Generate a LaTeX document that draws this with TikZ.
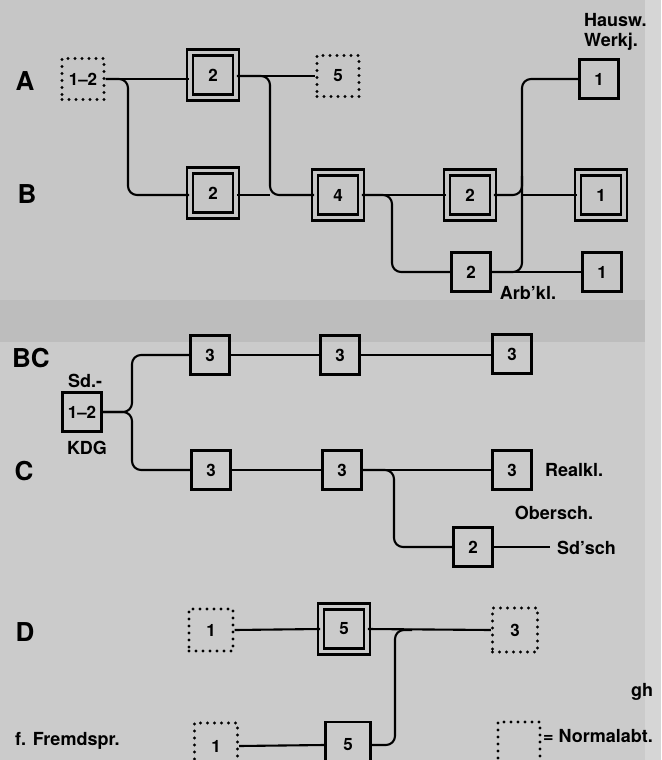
\documentclass[tikz,border=0pt]{standalone}
\usepackage{fontspec}
\setmainfont{TeX Gyre Heros}
\definecolor{pagebg}{HTML}{C6C6C6}
\definecolor{lowbg}{HTML}{CBCBCB}
\definecolor{bandbg}{HTML}{BDBDBD}
\definecolor{edgebg}{HTML}{D6D6D6}
\begin{document}
\begin{tikzpicture}[x=1pt,y=-1pt,
  conn/.style={line width=2.1pt, rounded corners=9pt},
  numfont/.style={font=\bfseries\fontsize{17}{19}\selectfont},
  box/.style={draw, line width=2.6pt, minimum width=39pt, minimum height=39pt, inner sep=0pt, numfont},
  dotbox/.style={draw, line width=3.2pt, dash pattern=on 0pt off 7pt, line cap=round, minimum width=42pt, minimum height=41pt, inner sep=0pt, numfont},
  dbox/.style={draw, line width=2.3pt, double=pagebg, double distance=3.6pt, minimum width=45.5pt, minimum height=45pt, inner sep=0pt, numfont},
  dboxlow/.style={dbox, double=lowbg},
  rowlabel/.style={font=\bfseries\fontsize{26}{28}\selectfont, inner sep=0pt},
  txt/.style={font=\bfseries\fontsize{18}{20}\selectfont, inner sep=0pt}]
\fill[pagebg] (0,0) rectangle (661,342);
\fill[lowbg] (0,342) rectangle (661,760);
\fill[bandbg] (0,300) rectangle (645,342);
\fill[edgebg] (645,0) rectangle (661,760);
\useasboundingbox (0,0) rectangle (661,760);

% ---------- row labels ----------
\node[rowlabel] (lA) at (25,81) {A};
\node[rowlabel] (lB) at (27,194) {B};
\node[rowlabel] (lBC) at (31,358) {BC};
\node[rowlabel] (lC) at (24,471) {C};
\node[rowlabel] (lD) at (25,632) {D};

% ---------- A / B ----------
\node[dotbox] (a12) at (83,79) {1--2};
\node[dbox] (a2) at (213,75) {2};
\node[dotbox] (a5) at (338,76) {5};
\node[box] (a1) at (599,79) {1};
\node[txt, anchor=north west, align=left] (hw) at (584,13) {Hausw.\\Werkj.};

\node[dbox] (b2) at (213,193) {2};
\node[dbox] (b4) at (338,195) {4};
\node[dbox] (b2b) at (470,195) {2};
\node[dbox] (b1) at (601,195) {1};
\node[box] (l2) at (471,272) {2};
\node[box] (l1) at (602,272) {1};
\node[txt] (arb) at (528,293) {Arb’kl.};

\coordinate (ja) at (128,79);
\coordinate (jb) at (128,195);
\coordinate (jc) at (270,76);
\coordinate (jd) at (270,195);
\coordinate (je) at (392,195);
\coordinate (jf) at (392,272);
\coordinate (jg) at (522,272);
\coordinate (jh) at (522,79);
\coordinate (ji) at (522,195);
\coordinate (jj) at (522,176);

\draw[conn] (a12.east) -- (a12.east -| a2.west);
\draw[conn] (a12.east) -- (ja) -- (jb) -- (jb -| b2.west);
\draw[conn] (a2.east |- a5.west) -- (a5.west);
\draw[conn] (a2.east |- a5.west) -- (jc) -- (jd) -- (b4.west);
\draw[conn] (b2.east |- jd) -- (jd);
\draw[conn] (b4.east) -- (b2b.west);
\draw[conn] (b4.east) -- (je) -- (jf) -- (l2.west);
\draw[conn] (l2.east) -- (l1.west);
\draw[conn] (l2.east) -- (jg) -- (jh) -- (a1.west);
\draw[conn] (b2b.east) -- (ji) -- (jj);
\draw[conn] (ji) -- (b1.west);

% ---------- BC / C ----------
\node[box] (sd12) at (82,412) {1--2};
\node[txt] (sdl) at (85,381) {Sd.-};
\node[txt] (kdg) at (87,448) {KDG};

\node[box] (bc3a) at (210,355) {3};
\node[box] (bc3b) at (340,355) {3};
\node[box] (bc3c) at (512,354) {3};
\node[box] (c3a) at (211,470) {3};
\node[box] (c3b) at (342,470) {3};
\node[box] (c3c) at (512,470) {3};
\node[box] (c2) at (473,547) {2};
\node[txt, anchor=west] (real) at (545,470) {Realkl.};
\node[txt] (ober) at (554,513) {Obersch.};
\node[txt, anchor=west] (sdsch) at (557,548) {Sd’sch};

\coordinate (jk) at (132,412);
\coordinate (jl) at (132,355);
\coordinate (jm) at (132,470);
\coordinate (jn) at (394,470);
\coordinate (jo) at (394,547);
\coordinate (sdend) at (550,547);

\draw[conn] (sd12.east) -- (jk) -- (jl) -- (bc3a.west);
\draw[conn] (sd12.east) -- (jk) -- (jm) -- (c3a.west);
\draw[conn] (bc3a.east) -- (bc3b.west);
\draw[conn] (bc3b.east) -- (bc3b.east -| bc3c.west);
\draw[conn] (c3a.east) -- (c3b.west);
\draw[conn] (c3b.east) -- (c3c.west);
\draw[conn] (c3b.east) -- (jn) -- (jo) -- (c2.west);
\draw[conn] (c2.east) -- (sdend);

% ---------- D ----------
\node[dotbox, minimum width=44pt, minimum height=42pt] (d1) at (211,630) {1};
\node[dboxlow] (d5) at (344,629) {5};
\node[dotbox, minimum width=45pt, minimum height=44pt] (d3) at (515,630) {3};
\node[txt] (gh) at (642,692) {gh};

\node[txt, anchor=west] (fremd) at (15,741) {f. Fremdspr.};
\node[dotbox, minimum width=43pt, minimum height=46pt] (e1) at (216,746) {1};
\node[box, minimum width=45pt, minimum height=46pt] (e5) at (348,745) {5};
\node[dotbox, minimum width=42pt, minimum height=48pt] (lg) at (519,746) {};
\node[txt, anchor=west] (norm) at (543,736) {= Normalabt.};

\coordinate (jp) at (412,630);
\coordinate (jq) at (395,630);
\coordinate (jr) at (395,745);

\draw[conn] (d1.east) -- (d5.west);
\draw[conn] (d5.east) -- (d3.west);
\draw[conn] (jp) -- (jq) -- (jr) -- (e5.east);
\draw[conn] (e1.east) -- (e5.west);
\end{tikzpicture}
\end{document}
